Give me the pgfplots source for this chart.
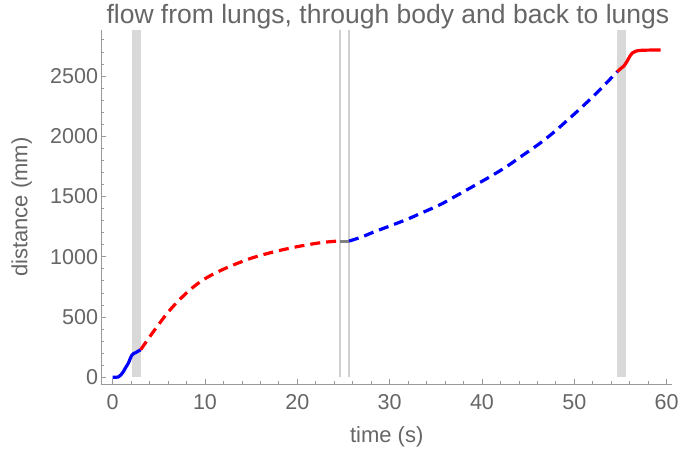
\documentclass[border=0pt]{standalone}
\usepackage{pgfplots}
\pgfplotsset{compat=1.18}
\usepackage{fontspec}
\setmainfont{Liberation Sans}

\definecolor{txtgray}{HTML}{666666}
\definecolor{axgray}{HTML}{999999}
\definecolor{bandgray}{HTML}{D9D9D9}
\definecolor{linegray}{HTML}{D0D0D0}
\definecolor{seggray}{HTML}{808080}

\begin{document}
\begin{tikzpicture}
\useasboundingbox (0,0) rectangle (680bp,454bp);
\begin{axis}[
  at={(101.5bp,69.5bp)}, anchor=south west,
  scale only axis, width=570.5bp, height=354.5bp,
  xmin=-1.21, xmax=60.58, ymin=-60, ymax=2882,
  axis x line=bottom, axis y line=left,
  axis line style={axgray, line width=0.8bp, -},
  tick align=inside,
  major tick length=5bp, minor tick length=3bp,
  every tick/.style={axgray, line width=0.8bp},
  xtick={0,10,...,60}, minor x tick num=4,
  ytick={0,500,...,2500}, minor ytick={100,200,...,2800},
  tick label style={font=\fontsize{21.5bp}{24bp}\selectfont, text=txtgray},
  xticklabel style={yshift=-6bp},
  /pgf/number format/assume math mode=true,
  /pgf/number format/1000 sep={},
  xlabel={time (s)}, ylabel={distance (mm)},
  every axis x label/.style={at={(axis description cs:0.5,-0.148)}, anchor=center,
    font=\fontsize{22bp}{25bp}\selectfont, text=txtgray},
  every axis y label/.style={at={(axis description cs:-0.140,0.5)}, anchor=center, rotate=90,
    font=\fontsize{22bp}{25bp}\selectfont, text=txtgray},
  title={flow from lungs, through body and back to lungs},
  title style={font=\fontsize{26.5bp}{30bp}\selectfont, text=txtgray,
    at={(axis description cs:0.502,1.022)}, anchor=center},
  clip=false,
]
% shaded transit windows
\addplot[draw=none, fill=bandgray] coordinates {(2.1,0) (3.1,0) (3.1,2882) (2.1,2882)} -- cycle;
\addplot[draw=none, fill=bandgray] coordinates {(54.65,0) (55.65,0) (55.65,2882) (54.65,2882)} -- cycle;
% boundaries of the pause
\addplot[linegray, line width=1.4bp] coordinates {(24.6,0) (24.6,2882)};
\addplot[linegray, line width=1.4bp] coordinates {(25.6,0) (25.6,2882)};

% lungs to heart
\addplot[blue, line width=3.2bp, smooth] coordinates {
  (0,0) (0.3,0) (0.6,2) (0.9,20) (1.16,47) (1.4,80) (1.7,117) (1.9,155)
  (2.06,181) (2.25,196) (2.53,206) (2.8,218) (3.03,228)};
% heart to body
\addplot[red, line width=3.2bp, smooth, dash pattern=on 10bp off 6bp] coordinates {
  (3.03,228) (4,335) (5,440) (6,540) (7,625) (8,700) (9,765) (10,818)
  (11,860) (12,897) (13,930) (14,960) (15,988) (16,1011) (17,1032)
  (18,1051) (19,1068) (20,1084) (21,1098) (22,1111) (23,1121) (24,1128) (24.6,1130)};
% pause in the body
\addplot[seggray, line width=3.2bp] coordinates {(24.6,1130) (25.6,1130)};
% body back to heart
\addplot[blue, line width=3.2bp, smooth, dash pattern=on 10bp off 6bp] coordinates {
  (25.6,1130) (27,1165) (28.2,1203) (30,1255) (31.8,1308) (33,1348)
  (35.45,1432) (37,1497) (39.05,1585) (41,1670) (42.7,1750) (44,1820)
  (46.3,1943) (48,2048) (49.9,2178) (51,2255) (52.8,2388) (53.7,2460) (54.65,2536)};
% heart back to lungs
\addplot[red, line width=3.2bp, smooth] coordinates {
  (54.65,2536) (55.0,2560) (55.35,2582) (55.7,2620) (56.0,2662) (56.3,2692)
  (56.7,2707) (57.2,2713) (58,2715) (59.35,2716)};
\end{axis}
\end{tikzpicture}
\end{document}
